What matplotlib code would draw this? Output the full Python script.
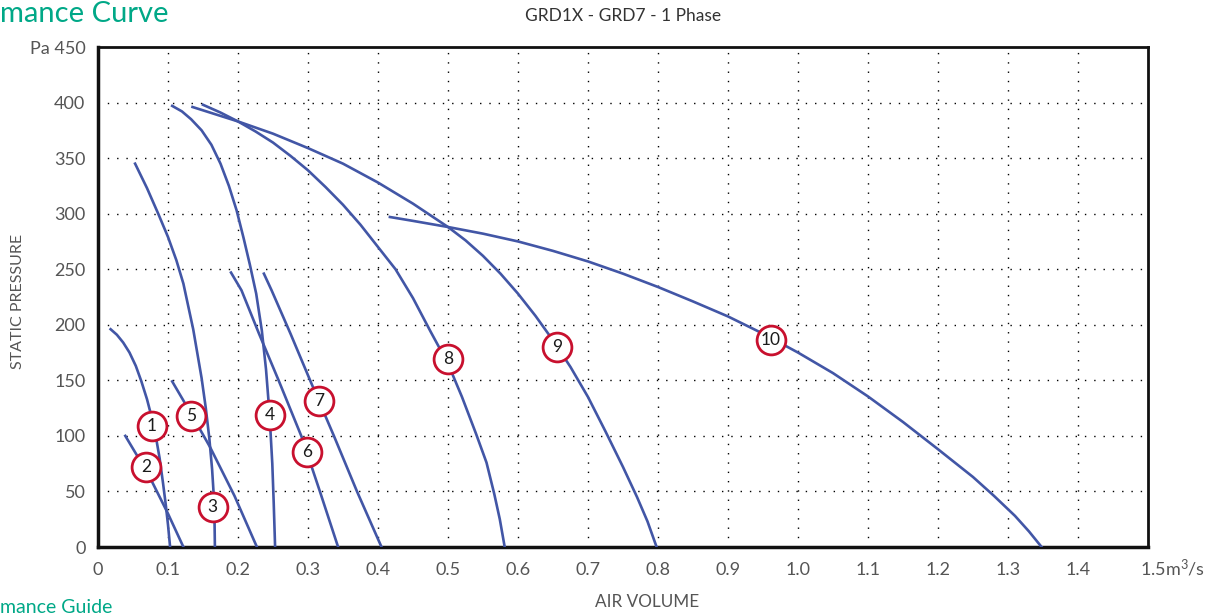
import matplotlib.pyplot as plt
import matplotlib.transforms as mtransforms

# curve data (air volume m3/s, static pressure Pa)
c1_x = [0.018, 0.027, 0.036, 0.045, 0.054, 0.062, 0.070, 0.077, 0.083, 0.088, 0.093, 0.097,
        0.100, 0.103]
c1_y = [196, 191, 184, 175, 163, 149, 133, 116, 98, 80, 57, 37, 20, 0]
c2_x = [0.039, 0.058, 0.077, 0.10, 0.122]
c2_y = [100, 80, 59, 30, 0]
c3_x = [0.053, 0.070, 0.086, 0.100, 0.112, 0.122, 0.136, 0.148, 0.154, 0.159, 0.163, 0.1655,
        0.1665, 0.167]
c3_y = [345, 323, 300, 279, 258, 237, 196, 152, 125, 98, 70, 45, 22, 0]
c4_x = [0.106, 0.120, 0.133, 0.148, 0.162, 0.175, 0.187, 0.198, 0.208, 0.217, 0.226, 0.234,
        0.240, 0.245, 0.249, 0.251, 0.253]
c4_y = [397, 392, 385, 375, 362, 345, 325, 303, 278, 254, 228, 195, 160, 120, 75, 40, 0]
c5_x = [0.106, 0.133, 0.160, 0.195, 0.227]
c5_y = [149, 120, 90, 46, 0]
c6_x = [0.190, 0.205, 0.230, 0.258, 0.291, 0.317, 0.343]
c6_y = [247, 231, 192, 150, 99, 50, 0]
c7_x = [0.237, 0.248, 0.275, 0.303, 0.337, 0.370, 0.405]
c7_y = [246, 231, 192, 150, 100, 50, 0]
c8_x = [0.150, 0.175, 0.200, 0.225, 0.250, 0.275, 0.300, 0.325, 0.350, 0.375, 0.400, 0.425,
        0.450, 0.475, 0.500, 0.520, 0.540, 0.555, 0.566, 0.574, 0.581]
c8_y = [398, 391, 383, 374, 364, 352, 339, 324, 308, 290, 270, 250, 224, 194, 165, 135,
        102, 76, 48, 25, 0]
c9_x = [0.135, 0.175, 0.200, 0.250, 0.300, 0.350, 0.400, 0.450, 0.500, 0.525, 0.550, 0.575,
        0.600, 0.625, 0.650, 0.675, 0.700, 0.725, 0.750, 0.770, 0.785, 0.798]
c9_y = [396, 388, 383, 372, 359, 345, 328, 309, 288, 276, 262, 246, 228, 208, 186, 162, 135,
        104, 72, 45, 23, 0]
c10_x = [0.417, 0.450, 0.500, 0.550, 0.600, 0.650, 0.700, 0.750, 0.800, 0.850, 0.900, 0.950,
         1.000, 1.050, 1.100, 1.150, 1.200, 1.250, 1.280, 1.310, 1.330, 1.348]
c10_y = [297, 293.5, 288, 282, 275, 266.5, 257, 246, 234, 221, 207.5, 192, 175, 156.5, 135.5,
         112.5, 88, 63, 46, 28, 14, 0]

curves_x = [c1_x, c2_x, c3_x, c4_x, c5_x, c6_x, c7_x, c8_x, c9_x, c10_x]
curves_y = [c1_y, c2_y, c3_y, c4_y, c5_y, c6_y, c7_y, c8_y, c9_y, c10_y]

label_names = ["1", "2", "3", "4", "5", "6", "7", "8", "9", "10"]
label_x = [0.077, 0.069, 0.164, 0.246, 0.133, 0.299, 0.316, 0.500, 0.656, 0.961]
label_y = [109, 72, 36, 119, 118, 85.5, 131, 169, 180, 186]

x_ticks = [0, 0.1, 0.2, 0.3, 0.4, 0.5, 0.6, 0.7, 0.8, 0.9, 1.0, 1.1, 1.2, 1.3, 1.4, 1.5]
x_labels = ["0", "0.1", "0.2", "0.3", "0.4", "0.5", "0.6", "0.7", "0.8", "0.9",
            "1.0", "1.1", "1.2", "1.3", "1.4", "1.5m$^3$/s"]
y_ticks = [0, 50, 100, 150, 200, 250, 300, 350, 400, 450]
y_labels = ["0", "50", "100", "150", "200", "250", "300", "350", "400", "Pa 450"]

plt.rcParams["font.family"] = ["Lato", "DejaVu Sans"]
plt.rcParams["mathtext.fontset"] = "custom"
plt.rcParams["mathtext.rm"] = "Lato"
plt.rcParams["mathtext.default"] = "regular"

fig = plt.figure(figsize=(12.18, 6.15), dpi=100)
ax = fig.add_axes([98 / 1218, 68 / 615, 1050 / 1218, 500 / 615])

line_color = "#4256a6"
for i in range(len(curves_x)):
    ax.plot(curves_x[i], curves_y[i], color=line_color, lw=1.9,
            solid_joinstyle="round", zorder=3)

ax.scatter(label_x, label_y, s=430, facecolor="white", edgecolor="#c8102e",
           linewidths=2.0, zorder=4)
for i in range(len(label_names)):
    ax.text(label_x[i], label_y[i], label_names[i], ha="center", va="center",
            fontsize=12.5, color="#1a1a1a", zorder=5)

ax.set_xlim(0, 1.5)
ax.set_ylim(0, 450)
ax.set_xticks(x_ticks)
ax.set_xticklabels(x_labels)
ax.set_yticks(y_ticks)
ax.set_yticklabels(y_labels)
ax.tick_params(length=0, labelsize=13, labelcolor="#555555")
ax.tick_params(axis="x", pad=11)
ax.tick_params(axis="y", pad=9)

# last x label sits left-aligned just before the corner
last = ax.get_xticklabels()[-1]
last.set_ha("left")
last.set_va("baseline")
last.set_transform(last.get_transform() +
                   mtransforms.ScaledTranslation(-8 / 100, -13 / 100, fig.dpi_scale_trans))

for v in x_ticks[1:-1]:
    ax.axvline(v, color="black", lw=1, ls=(0, (1, 5.7)), zorder=1)
for v in y_ticks[1:-1]:
    ax.axhline(v, color="black", lw=1, ls=(0, (1, 5.7)), zorder=1)

for s in ax.spines.values():
    s.set_linewidth(2)
    s.set_color("#111111")
ax.spines["left"].set_linewidth(2.5)
ax.spines["bottom"].set_linewidth(2.5)

fig.text(623 / 1218, 1 - 16 / 615, "GRD1X - GRD7 - 1 Phase", ha="center",
         va="center", fontsize=12.5, color="#333333")
fig.text(18 / 1218, 1 - 301 / 615, "STATIC PRESSURE", rotation=90, ha="center",
         va="center", fontsize=11.5, color="#555555")
fig.text(647 / 1218, 1 - 602 / 615, "AIR VOLUME", ha="center", va="center",
         fontsize=12.3, color="#555555")

teal = "#00a887"
fig.text(0, 1 - 22 / 615, "mance Curve", ha="left", va="baseline",
         fontsize=21, color=teal)
fig.text(0, 1 - 613 / 615, "mance Guide", ha="left", va="baseline",
         fontsize=14, color=teal)

fig.savefig("out.png", dpi=100)
